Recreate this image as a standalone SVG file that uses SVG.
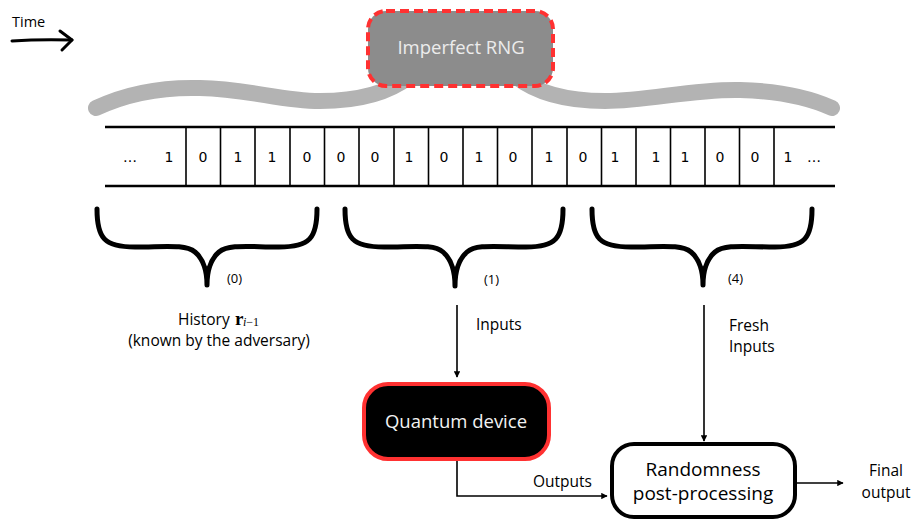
<svg xmlns="http://www.w3.org/2000/svg" width="913" height="520" viewBox="0 0 913 520">
  <defs>
    <marker id="head" viewBox="0 0 10 10" refX="9" refY="5" markerWidth="4" markerHeight="4" orient="auto" markerUnits="strokeWidth">
      <path d="M0,0 L10,5 L0,10 z" fill="#000"/>
    </marker>
    <style>
      .lbl { font-family: "Open Sans", "Noto Sans", sans-serif; fill: #000; }
      .bit { font-family: "DejaVu Sans", sans-serif; font-size: 14px; fill: #000; text-anchor: middle; }
      .tape { stroke: #000; stroke-width: 2.5; }
      .cell { stroke: #000; stroke-width: 1.6; }
      .brace { fill: none; stroke: #000; stroke-width: 5; stroke-linecap: round; stroke-linejoin: round; }
      .wave { fill: none; stroke: #b3b3b3; stroke-width: 16; stroke-linecap: round; }
      .conn { fill: none; stroke: #000; stroke-width: 1.6; }
      .math { font-family: "Liberation Serif", serif; }
    </style>
  </defs>

  <!-- time direction -->
  <g id="time">
    <text class="lbl" x="12" y="27" font-size="14.5">Time</text>
    <path d="M12,41 Q40,39 72,40" fill="none" stroke="#000" stroke-width="3" stroke-linecap="round"/>
    <path d="M60,31 L72,40 L62,50" fill="none" stroke="#000" stroke-width="3" stroke-linecap="round" stroke-linejoin="round"/>
  </g>

  <!-- source spreading over the bit string -->
  <g id="spread">
    <path class="wave" d="M96,108 C130,92 165,87 200,88 C250,89 280,101 320,101 C360,101 390,92 410,76"/>
    <path class="wave" d="M515,76 C535,92 565,101 605,101 C650,101 690,89 740,90 C780,91 810,98 832,108"/>
  </g>

  <g id="rng">
    <rect x="368" y="11" width="185" height="75" rx="18" fill="#8c8c8c" stroke="#ff3131" stroke-width="4" stroke-dasharray="9 5"/>
    <text class="lbl" x="461" y="54" font-size="18.5" text-anchor="middle" style="fill:#ececec">Imperfect RNG</text>
  </g>

  <!-- bit string -->
  <g id="bits">
    <line class="tape" x1="105" y1="127" x2="835" y2="127"/>
    <line class="tape" x1="105" y1="186" x2="835" y2="186"/>
    <g>
      <line class="cell" x1="186" y1="127" x2="186" y2="186"/>
      <line class="cell" x1="220.5" y1="127" x2="220.5" y2="186"/>
      <line class="cell" x1="255" y1="127" x2="255" y2="186"/>
      <line class="cell" x1="290" y1="127" x2="290" y2="186"/>
      <line class="cell" x1="324.5" y1="127" x2="324.5" y2="186"/>
      <line class="cell" x1="359" y1="127" x2="359" y2="186"/>
      <line class="cell" x1="394" y1="127" x2="394" y2="186"/>
      <line class="cell" x1="428.5" y1="127" x2="428.5" y2="186"/>
      <line class="cell" x1="463" y1="127" x2="463" y2="186"/>
      <line class="cell" x1="497.5" y1="127" x2="497.5" y2="186"/>
      <line class="cell" x1="532" y1="127" x2="532" y2="186"/>
      <line class="cell" x1="567" y1="127" x2="567" y2="186"/>
      <line class="cell" x1="601.5" y1="127" x2="601.5" y2="186"/>
      <line class="cell" x1="636" y1="127" x2="636" y2="186"/>
      <line class="cell" x1="670.5" y1="127" x2="670.5" y2="186"/>
      <line class="cell" x1="705" y1="127" x2="705" y2="186"/>
      <line class="cell" x1="739.5" y1="127" x2="739.5" y2="186"/>
      <line class="cell" x1="774" y1="127" x2="774" y2="186"/>
    </g>
    <g>
      <text class="bit" x="130" y="162">…</text>
      <text class="bit" x="169" y="162">1</text>
      <text class="bit" x="203" y="162">0</text>
      <text class="bit" x="238" y="162">1</text>
      <text class="bit" x="272" y="162">1</text>
      <text class="bit" x="307" y="162">0</text>
      <text class="bit" x="341" y="162">0</text>
      <text class="bit" x="375" y="162">0</text>
      <text class="bit" x="409" y="162">1</text>
      <text class="bit" x="444" y="162">0</text>
      <text class="bit" x="479" y="162">1</text>
      <text class="bit" x="513" y="162">0</text>
      <text class="bit" x="549" y="162">1</text>
      <text class="bit" x="583" y="162">0</text>
      <text class="bit" x="615" y="162">1</text>
      <text class="bit" x="656" y="162">1</text>
      <text class="bit" x="685" y="162">1</text>
      <text class="bit" x="720" y="162">0</text>
      <text class="bit" x="755" y="162">0</text>
      <text class="bit" x="788" y="162">1</text>
      <text class="bit" x="814" y="162">…</text>
    </g>
  </g>

  <!-- braces grouping the bits -->
  <g id="brace0">
    <path class="brace" d="M97,209 C97,238 104,247 135,247 C165,247 185,244 195,252 C202,258 207,268 207,285 M317,209 C317,238 310,247 279,247 C249,247 229,244 219,252 C212,258 207,268 207,285"/>
    <text class="lbl" x="227" y="283" font-size="13">(0)</text>
  </g>
  <g id="brace1">
    <path class="brace" d="M345,209 C345,238 352,247 384,247 C414,247 434,244 443,252 C450,258 455,268 455,286 M563,209 C563,238 556,247 526,247 C496,247 476,244 467,252 C460,258 455,268 455,286"/>
    <text class="lbl" x="484" y="284" font-size="13">(1)</text>
  </g>
  <g id="brace4">
    <path class="brace" d="M592,209 C592,238 599,247 631,247 C661,247 681,244 691,252 C698,258 703,268 703,285 M812,209 C812,238 805,247 775,247 C745,247 725,244 715,252 C708,258 703,268 703,285"/>
    <text class="lbl" x="728" y="283" font-size="13">(4)</text>
  </g>

  <g id="history">
    <text class="lbl" x="178" y="325" font-size="15.5">History</text>
    <text class="math" x="235" y="325" font-size="19" font-weight="bold">r</text>
    <text class="math" x="243" y="326" font-size="12"><tspan font-style="italic">i</tspan>−1</text>
    <text class="lbl" x="219" y="346" font-size="15.5" text-anchor="middle">(known by the adversary)</text>
  </g>

  <!-- connectors -->
  <g id="connectors">
    <line class="conn" x1="457" y1="305" x2="457" y2="377" marker-end="url(#head)"/>
    <text class="lbl" x="476" y="330" font-size="15.5">Inputs</text>
    <line class="conn" x1="704" y1="305" x2="704" y2="441" marker-end="url(#head)"/>
    <text class="lbl" x="729" y="331" font-size="15.5">Fresh</text>
    <text class="lbl" x="729" y="352" font-size="15.5">Inputs</text>
    <path class="conn" d="M457,461 L457,496 L607,496" marker-end="url(#head)"/>
    <text class="lbl" x="533" y="487" font-size="15.5">Outputs</text>
    <line class="conn" x1="796" y1="483" x2="843" y2="483" marker-end="url(#head)"/>
    <text class="lbl" x="886" y="476" font-size="15.5" text-anchor="middle">Final</text>
    <text class="lbl" x="886" y="498" font-size="15.5" text-anchor="middle">output</text>
  </g>

  <g id="quantum">
    <rect x="364" y="384" width="185" height="75" rx="24" fill="#000" stroke="#ff3131" stroke-width="4"/>
    <text class="lbl" x="456" y="428" font-size="18.5" text-anchor="middle" style="fill:#f2f2f2">Quantum device</text>
  </g>

  <g id="postproc">
    <rect x="612" y="444" width="183" height="73" rx="22" fill="#fff" stroke="#000" stroke-width="4"/>
    <text class="lbl" x="703" y="476" font-size="19" text-anchor="middle">Randomness</text>
    <text class="lbl" x="703" y="500" font-size="19" text-anchor="middle">post-processing</text>
  </g>
</svg>
